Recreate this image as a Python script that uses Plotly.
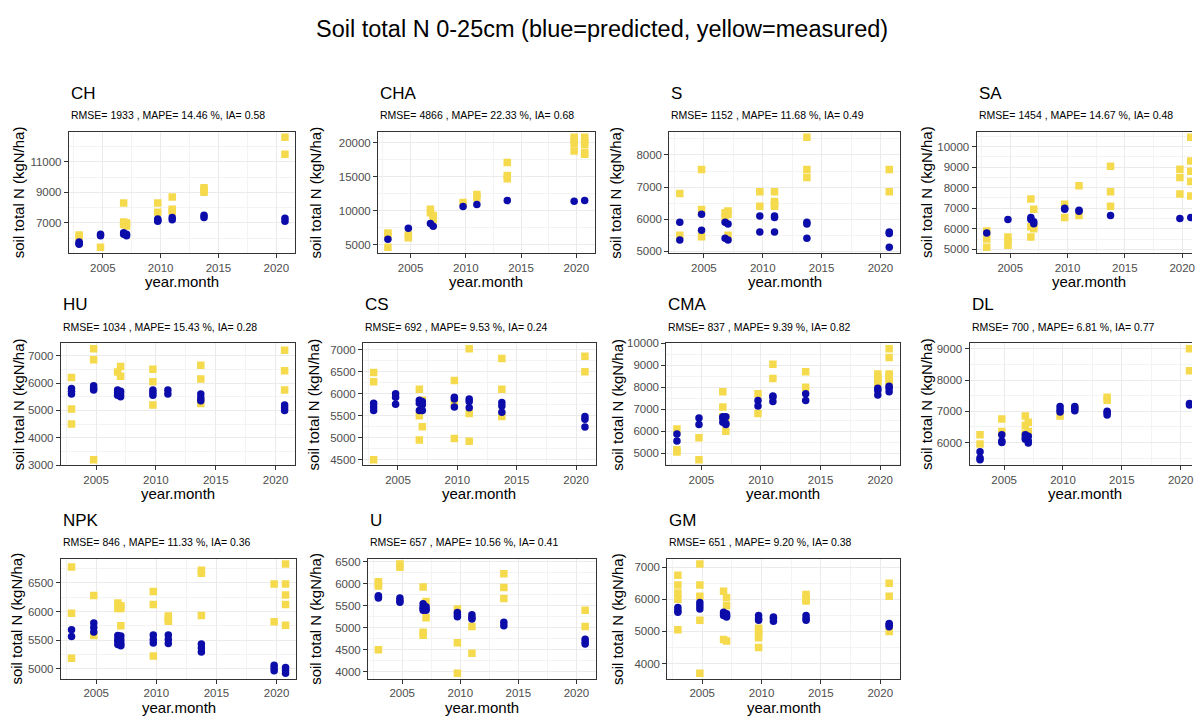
import plotly.graph_objects as go

W, H = 1195, 720

# ---------------- data ----------------
dates = [2002.95, 2004.8, 2006.8, 2007.05, 2009.75, 2011.0, 2013.75, 2019.8, 2020.75]

panel_names = ["CH", "CHA", "S", "SA", "HU", "CS", "CMA", "DL", "NPK", "U", "GM"]

stats_text = {
    "CH": "RMSE= 1933 , MAPE= 14.46 %, IA= 0.58",
    "CHA": "RMSE= 4866 , MAPE= 22.33 %, IA= 0.68",
    "S": "RMSE= 1152 , MAPE= 11.68 %, IA= 0.49",
    "SA": "RMSE= 1454 , MAPE= 14.67 %, IA= 0.48",
    "HU": "RMSE= 1034 , MAPE= 15.43 %, IA= 0.28",
    "CS": "RMSE= 692 , MAPE= 9.53 %, IA= 0.24",
    "CMA": "RMSE= 837 , MAPE= 9.39 %, IA= 0.82",
    "DL": "RMSE= 700 , MAPE= 6.81 %, IA= 0.77",
    "NPK": "RMSE= 846 , MAPE= 11.33 %, IA= 0.36",
    "U": "RMSE= 657 , MAPE= 10.56 %, IA= 0.41",
    "GM": "RMSE= 651 , MAPE= 9.20 %, IA= 0.38",
}

# values per date (same order as `dates`)
CH_meas = [[6200, 6100], [5400], [8300, 7050, 6900], [7000, 6800], [8300, 7700], [8700, 7900, 7750], [9300, 9150, 9000], [], [12600, 11500]]
CH_pred = [[5750, 5650, 5600], [6250, 6150], [6350, 6250], [6250, 6150], [7250, 7150, 7100], [7350, 7200], [7500, 7350], [], [7300, 7100]]

CHA_meas = [[6700, 6400, 4600], [6400, 6000], [10200, 9700], [9300, 8700], [11200], [12400, 11900], [17100, 15200, 14700], [20800, 20300, 19900, 18800], [20800, 20200, 19800, 18600, 18300]]
CHA_pred = [[5800], [7400], [8100], [7700], [10600], [10900], [11500], [11400], [11500]]

S_meas = [[6800, 5500], [7550, 6300, 5450], [6200, 6050], [6250, 6150, 5500], [6850, 6400], [6850, 6550, 6450, 6400], [8550, 7550, 7300], [], [7550, 6850]]
S_pred = [[5900, 5350], [6150, 5650], [5900, 5400], [5850, 5350], [6100, 5600], [6100, 6050, 5600], [5900, 5850, 5400], [], [5600, 5550, 5120]]

SA_meas = [[5900, 5500, 5100], [5600, 5400, 5200], [7450, 6100, 5600], [6950, 6100, 6000], [7200, 6550], [8100, 6650], [9050, 7800, 7100], [8900, 8500, 7700], [10450, 9300, 8800, 8300, 7600]]
SA_pred = [[5800], [6450], [6550, 6450], [6350, 6250], [7000, 6950], [6900, 6850], [6650], [6500], [6550]]

HU_meas = [[6200, 5050, 4500], [7250, 6850, 3200], [6400], [6600, 6250], [6500, 6050, 5200], [], [6650, 6150, 5250], [], [7200, 6450, 5750]]
HU_pred = [[5800, 5700, 5600], [5900, 5800, 5750], [5750, 5650, 5550], [5700, 5600, 5500], [5750, 5650, 5550], [5750, 5600], [5600, 5450, 5350], [], [5200, 5100, 5000]]

CS_meas = [[6480, 6270, 4500], [], [6100, 5500, 4950], [5850, 5250], [6300, 5800, 4980], [7020, 5550, 4920], [6800, 6100, 5480], [], [6850, 6500]]
CS_pred = [[5780, 5700, 5620], [6000, 5920, 5760], [5850, 5780, 5620], [5820, 5750, 5620], [5920, 5880, 5700], [5880, 5820, 5680], [5800, 5720, 5580], [], [5480, 5420, 5240]]

CMA_meas = [[6100, 5150, 5050], [5700, 4700], [7800, 7100, 6650], [6600, 6000], [7700, 6800], [9050, 8400], [8700, 8000], [8600, 8450, 8300, 8200], [9750, 9350, 8600, 8500, 8300, 8200]]
CMA_pred = [[5870, 5550], [6600, 6300], [6650, 6600, 6400], [6650, 6350, 6300], [7400, 7150], [7600, 7550, 7350], [7700, 7400], [7950, 7850, 7650], [8050, 7950, 7800]]

DL_meas = [[6250, 5950], [6750, 6350], [6850, 6550, 6300], [6650, 6350], [6850], [7100], [7450, 7350], [], [9000, 8300]]
DL_pred = [[5700, 5500, 5450], [6250, 6050, 6000], [6250, 6150, 6100], [6200, 6050, 5980], [7150, 7050, 6980], [7150, 7100, 7020], [7000, 6950, 6880], [], [7250, 7200]]

NPK_meas = [[6780, 5970, 5180], [6280, 5580], [6150, 6050], [6100, 6050, 5750], [6350, 6120, 5220], [5920, 5870, 5830], [6720, 6670, 5930], [6480, 5820], [6830, 6480, 6290, 6120, 5760]]
NPK_pred = [[5680, 5560], [5800, 5720, 5640], [5580, 5520, 5480, 5420], [5570, 5500, 5440, 5400], [5590, 5510, 5450], [5590, 5510, 5440], [5430, 5360, 5290], [5060, 5010, 4960], [5020, 4970, 4920]]

U_meas = [[6050, 6000, 5950, 4500], [6450, 6380], [5930, 4900, 4830], [5600, 5230], [5430, 4660, 3970], [5030, 4420], [6230, 5920, 5670], [], [5400, 5030]]
U_pred = [[5730, 5700, 5680], [5680, 5620, 5580], [5550, 5480, 5440, 5400], [5480, 5430, 5400], [5350, 5300, 5250], [5300, 5230, 5200], [5130, 5050], [], [4740, 4680, 4630]]

GM_meas = [[6750, 6450, 6200, 6000, 5050], [7100, 6450, 6100, 5350, 3700], [6250, 4750], [6050, 5800, 4700], [5100, 5000, 4900, 4800, 4500], [], [6150, 6050, 6000, 5950], [], [6500, 6100, 5000]]
GM_pred = [[5750, 5650, 5600], [5900, 5800, 5700], [5600, 5550, 5500], [5550, 5500, 5450], [5500, 5400, 5350], [5450, 5400, 5320], [5500, 5400, 5350], [], [5250, 5200, 5150]]

measured = {"CH": CH_meas, "CHA": CHA_meas, "S": S_meas, "SA": SA_meas, "HU": HU_meas, "CS": CS_meas,
            "CMA": CMA_meas, "DL": DL_meas, "NPK": NPK_meas, "U": U_meas, "GM": GM_meas}
predicted = {"CH": CH_pred, "CHA": CHA_pred, "S": S_pred, "SA": SA_pred, "HU": HU_pred, "CS": CS_pred,
             "CMA": CMA_pred, "DL": DL_pred, "NPK": NPK_pred, "U": U_pred, "GM": GM_pred}

# y tick spacing (tick0, dtick)
y_ticks = {"CH": (1000, 2000), "CHA": (5000, 5000), "S": (5000, 1000), "SA": (5000, 1000), "HU": (3000, 1000),
           "CS": (4500, 500), "CMA": (5000, 1000), "DL": (6000, 1000), "NPK": (5000, 500), "U": (4000, 500),
           "GM": (4000, 1000)}

# ---------------- layout (pixel boxes: left, natural right, top, bottom, ytitle x) ----------------
boxes = {
    "CH": (69, 296, 128, 251, 18),
    "CHA": (379, 596, 128, 251, 316),
    "S": (671, 902, 128, 251, 617),
    "SA": (979, 1204, 128, 251, 929),
    "HU": (61, 296, 343, 467, 18),
    "CS": (364, 597, 343, 467, 314),
    "CMA": (668, 902, 343, 467, 619),
    "DL": (972, 1203, 343, 467, 929),
    "NPK": (61, 297, 562, 684, 17),
    "U": (369, 597, 562, 684, 316),
    "GM": (669, 902, 562, 684, 619),
}

FONT = "Liberation Sans, Arial, Helvetica, sans-serif"
YELLOW = "#F5DA4E"
BLUE = "#0C0CAA"
GRID = "#EBEBEB"
MINOR = "#F3F3F3"
BORDER = "#333333"

xmin_d, xmax_d = min(dates), max(dates)
xpad = (xmax_d - xmin_d) * 0.05
X0, X1 = xmin_d - xpad, xmax_d + xpad


def flatten(vals):
    xs, ys = [], []
    for d, vs in zip(dates, vals):
        for v in vs:
            xs.append(d)
            ys.append(v)
    return xs, ys


fig = go.Figure()
layout = dict(
    width=W, height=H,
    margin=dict(l=0, r=0, t=0, b=0),
    paper_bgcolor="white", plot_bgcolor="white",
    showlegend=False,
    font=dict(family=FONT, color="black"),
)
annotations = []

for i, name in enumerate(panel_names, start=1):
    left, nat_right, top, bottom, ytx = boxes[name]
    right = min(nat_right, W)
    cut = nat_right > W
    xr1 = X0 + (right - left) / (nat_right - left) * (X1 - X0)

    mx, my = flatten(measured[name])
    px, py = flatten(predicted[name])
    allv = my + py
    lo, hi = min(allv), max(allv)
    pad = (hi - lo) * 0.05

    sfx = "" if i == 1 else str(i)
    fig.add_trace(go.Scatter(x=mx, y=my, mode="markers", xaxis="x" + sfx, yaxis="y" + sfx,
                             marker=dict(symbol="square", size=7.5, color=YELLOW), hoverinfo="skip"))
    fig.add_trace(go.Scatter(x=px, y=py, mode="markers", xaxis="x" + sfx, yaxis="y" + sfx,
                             marker=dict(symbol="circle", size=7.5, color=BLUE), hoverinfo="skip"))

    t0, dt = y_ticks[name]
    layout["xaxis" + sfx] = dict(
        domain=[left / W, right / W], anchor="y" + sfx, range=[X0, xr1],
        tick0=2005, dtick=5, ticks="outside", ticklen=4, tickwidth=1, tickcolor=BORDER,
        tickfont=dict(size=11.5, color="#4D4D4D", family=FONT), tickformat="d",
        ticklabeloverflow="allow",
        showline=True, linecolor=BORDER, linewidth=1, mirror=True,
        showgrid=True, gridcolor=GRID, gridwidth=1, zeroline=False,
        minor=dict(dtick=2.5, tick0=2005, showgrid=True, gridcolor=MINOR, gridwidth=0.6, ticks=""),
    )
    layout["yaxis" + sfx] = dict(
        domain=[1 - bottom / H, 1 - top / H], anchor="x" + sfx, range=[lo - pad, hi + pad],
        tick0=t0, dtick=dt, ticks="outside", ticklen=4, tickwidth=1, tickcolor=BORDER,
        tickfont=dict(size=11.5, color="#4D4D4D", family=FONT), tickformat="d",
        showline=True, linecolor=BORDER, linewidth=1, mirror=not cut,
        showgrid=True, gridcolor=GRID, gridwidth=1, zeroline=False,
        minor=dict(dtick=dt / 2, tick0=t0, showgrid=True, gridcolor=MINOR, gridwidth=0.6, ticks=""),
    )

    # panel title and subtitle
    annotations.append(dict(text=name, x=left / W, y=1 - (top - 39) / H, xref="paper", yref="paper",
                            xanchor="left", yanchor="middle", showarrow=False,
                            font=dict(size=17, color="black", family=FONT)))
    annotations.append(dict(text=stats_text[name], x=left / W, y=1 - (top - 17) / H, xref="paper", yref="paper",
                            xanchor="left", yanchor="middle", showarrow=False,
                            font=dict(size=10.5, color="black", family=FONT)))
    # axis titles
    annotations.append(dict(text="year.month", x=(left + nat_right) / 2 / W,
                            y=1 - (bottom + 29) / H, xref="paper", yref="paper",
                            xanchor="center", yanchor="middle", showarrow=False,
                            font=dict(size=15, color="black", family=FONT)))
    annotations.append(dict(text="soil total N (kgN/ha)", x=ytx / W, y=1 - (top + bottom) / 2 / H,
                            xref="paper", yref="paper", textangle=-90,
                            xanchor="center", yanchor="middle", showarrow=False,
                            font=dict(size=15, color="black", family=FONT)))

annotations.append(dict(text="Soil total N 0-25cm (blue=predicted, yellow=measured)", x=604 / W, y=1 - 23 / H,
                        xref="paper", yref="paper", xanchor="center", yanchor="middle", showarrow=False,
                        font=dict(size=23.5, color="black", family=FONT)))

layout["annotations"] = annotations
fig.update_layout(**layout)
fig.write_html("out.html", config={"displayModeBar": False})
